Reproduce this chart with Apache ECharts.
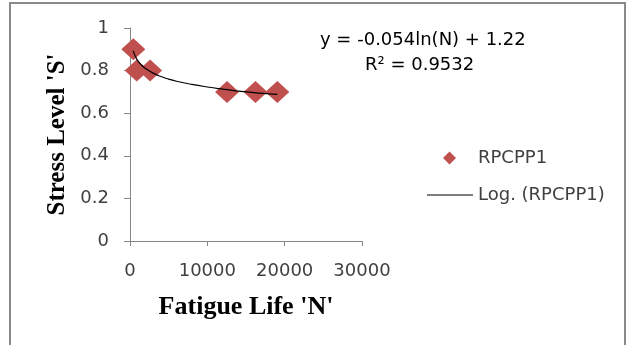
<!DOCTYPE html>
<html>
<head>
<meta charset="utf-8">
<script src="https://cdn.jsdelivr.net/npm/echarts@6/dist/echarts.min.js"></script>
<style>html,body{margin:0;padding:0;background:#fff}#c{width:635px;height:345px}</style>
</head>
<body>
<div id="c"></div>
<script>
// Data
const fatigueLife = [430, 870, 2600, 12550, 16230, 19050];
const stressLevel = [0.9, 0.8, 0.8, 0.7, 0.7, 0.7];
// Logarithmic trendline points
const trendN = [430, 600, 1000, 1500, 2000, 3000, 4000, 5000, 6000, 8000, 10000, 12000, 14000, 16000, 18000, 19050];
const trendS = [0.893, 0.875, 0.847, 0.825, 0.81, 0.788, 0.772, 0.76, 0.75, 0.735, 0.723, 0.713, 0.704, 0.697, 0.691, 0.688];
const xTicks = [0, 10000, 20000, 30000];
const yTicks = [0, 0.2, 0.4, 0.6, 0.8, 1];
const seriesName = 'RPCPP1';
const trendName = 'Log. (RPCPP1)';
const equationText = 'y = -0.054ln(N) + 1.22';
const r2Text = 'R² = 0.9532';

const chart = echarts.init(document.getElementById('c'));
const labelFont = 'DejaVu Sans';
const legendText = { fontFamily: labelFont, fontSize: 18, color: '#404040' };
chart.setOption({
  animation: false,
  backgroundColor: '#fff',
  grid: { left: 130, right: 273, top: 28, bottom: 104 },
  xAxis: {
    type: 'value', min: xTicks[0], max: xTicks[xTicks.length - 1], interval: 10000,
    name: "Fatigue Life 'N'", nameLocation: 'middle', nameGap: 53,
    nameTextStyle: { fontFamily: 'Liberation Serif', fontWeight: 'bold', fontSize: 26, color: '#000' },
    axisLine: { lineStyle: { color: '#868686', width: 1 } },
    axisTick: { show: true, length: 5, lineStyle: { color: '#868686' } },
    axisLabel: { fontFamily: labelFont, fontSize: 18, color: '#404040', margin: 21,
      formatter: v => String(v) },
    splitLine: { show: false }
  },
  yAxis: {
    type: 'value', min: yTicks[0], max: yTicks[yTicks.length - 1], interval: 0.2,
    name: "Stress Level 'S'", nameLocation: 'middle', nameGap: 60, nameRotate: 90,
    nameTextStyle: { fontFamily: 'Liberation Serif', fontWeight: 'bold', fontSize: 25, color: '#000' },
    axisLine: { show: true, lineStyle: { color: '#868686', width: 1 } },
    axisTick: { show: true, length: 6, lineStyle: { color: '#868686' } },
    axisLabel: { fontFamily: labelFont, fontSize: 18, color: '#404040', margin: 21,
      formatter: v => String(Math.round(v * 10) / 10) },
    splitLine: { show: false }
  },
  legend: [
    {
      left: 443, top: 149, padding: 0, itemWidth: 13, itemHeight: 13,
      textStyle: Object.assign({ padding: [0, 0, 0, 17] }, legendText),
      data: [{ name: seriesName, icon: 'diamond' }]
    },
    {
      left: 427, top: 185, padding: 0, itemWidth: 46, itemHeight: 1.2,
      textStyle: Object.assign({ padding: [0, 0, 0, 0], lineHeight: 20 }, legendText),
      data: [{ name: trendName, icon: 'rect', itemStyle: { color: '#000' } }]
    }
  ],
  graphic: [
    { type: 'rect', shape: { x: 10, y: 3, width: 615, height: 360 }, style: { fill: null, stroke: '#8a8a8a', lineWidth: 2 }, silent: true, z: -1 },
    { type: 'text', left: 320, top: 31, style: { text: equationText, font: '18px "DejaVu Sans"', fill: '#000' } },
    { type: 'text', left: 365, top: 56, style: { text: r2Text, font: '18px "DejaVu Sans"', fill: '#000' } }
  ],
  series: [
    {
      name: seriesName, type: 'scatter', symbol: 'diamond', symbolSize: [24, 22],
      itemStyle: { color: '#C0504D', opacity: 1 },
      data: fatigueLife.map((n, i) => [n, stressLevel[i]]), z: 2
    },
    {
      name: trendName, type: 'line', smooth: true, showSymbol: false, symbol: 'none',
      lineStyle: { color: '#000', width: 1.2 }, itemStyle: { color: '#000' },
      data: trendN.map((n, i) => [n, trendS[i]]), z: 3
    }
  ]
});
</script>
</body>
</html>
